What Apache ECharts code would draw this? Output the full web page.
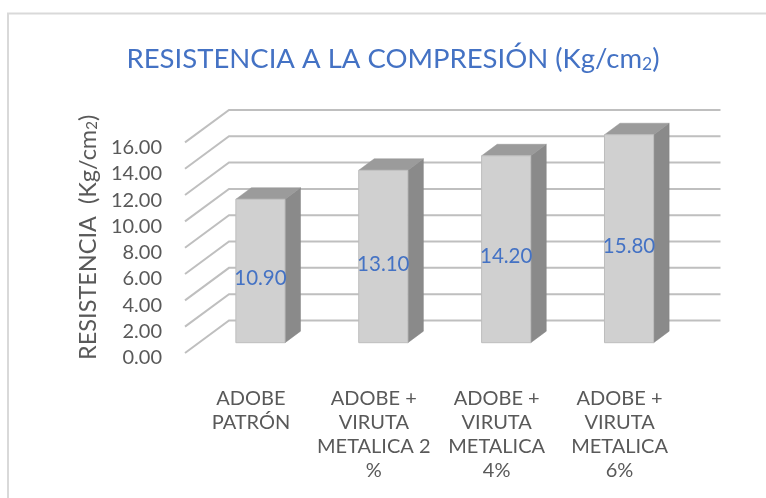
<!DOCTYPE html>
<html>
<head>
<meta charset="utf-8">
<script src="https://cdn.jsdelivr.net/npm/echarts@6/dist/echarts.min.js"></script>
<style>
  html, body { margin: 0; padding: 0; background: #ffffff; }
  #chart { width: 766px; height: 498px; }
</style>
</head>
<body>
<div id="chart"></div>
<script>
// Categories, values and value-axis ticks
const categories = [
  'ADOBE\nPATRÓN',
  'ADOBE +\nVIRUTA\nMETALICA 2\n%',
  'ADOBE +\nVIRUTA\nMETALICA\n4%',
  'ADOBE +\nVIRUTA\nMETALICA\n6%'
];
const resistencia = [10.90, 13.10, 14.20, 15.80];
const yTicks = [0, 2, 4, 6, 8, 10, 12, 14, 16];

const FONT = 'Lato, "Open Sans", sans-serif';
const TEXT_GREY = '#595959';
const BLUE = '#4472C4';

// Oblique offsets used to fake the 3-D look
const DEPTH = [15.5, -11.5];      // bar depth
const WALL_FRONT = [-14, 10.3];   // front edge of the side wall, relative to the bar plane
const WALL_BACK = [30, -22.2];    // back wall, relative to the bar plane

const chart = echarts.init(document.getElementById('chart'), null, { renderer: 'canvas' });

const option = {
  animation: false,
  backgroundColor: '#ffffff',
  title: {
    text: 'RESISTENCIA A LA COMPRESIÓN (Kg/cm{s|2})',
    left: 126.5,
    top: 45,
    padding: 0,
    textStyle: {
      fontFamily: FONT,
      fontSize: 27.5,
      fontWeight: 'normal',
      color: BLUE,
      rich: {
        s: { fontFamily: FONT, fontSize: 17.5, color: BLUE, verticalAlign: 'bottom', lineHeight: 27.5 }
      }
    }
  },
  graphic: [{
    type: 'polyline',
    silent: true,
    shape: { points: [[8, 498], [8, 13.5], [766, 13.5]] },
    style: { stroke: '#d9d9d9', lineWidth: 2, fill: null }
  }],
  grid: [
    // plane of the bar fronts
    { left: 199, right: 75.5, top: 132.1, bottom: 155.3 },
    // plane used to place the axis labels
    { left: 189.5, right: 85, top: 147.4, bottom: 140 }
  ],
  xAxis: [
    {
      type: 'category', gridIndex: 0, data: categories,
      axisLine: { show: false }, axisTick: { show: false }, axisLabel: { show: false }
    },
    {
      type: 'category', gridIndex: 1, data: categories,
      axisLine: { show: false }, axisTick: { show: false },
      axisLabel: {
        margin: 29, fontFamily: FONT, fontSize: 20, color: TEXT_GREY,
        lineHeight: 24, interval: 0
      }
    }
  ],
  yAxis: [
    {
      type: 'value', gridIndex: 0, min: 0, max: 16, interval: 2,
      axisLine: { show: false }, axisTick: { show: false }, axisLabel: { show: false },
      splitLine: { show: false },
      name: 'RESISTENCIA  (Kg/cm{s|2})',
      nameLocation: 'middle',
      nameRotate: 90,
      nameGap: 99,
      nameTextStyle: {
        fontFamily: FONT, fontSize: 23.5, color: TEXT_GREY,
        rich: { s: { fontFamily: FONT, fontSize: 15, color: TEXT_GREY, verticalAlign: 'bottom', lineHeight: 23.5 } }
      }
    },
    {
      type: 'value', gridIndex: 1, min: 0, max: 16, interval: 2,
      axisLine: { show: false }, axisTick: { show: false },
      splitLine: { show: false },
      axisLabel: {
        margin: 27.5, fontFamily: FONT, fontSize: 20, color: TEXT_GREY,
        formatter: v => v.toFixed(2)
      }
    }
  ],
  series: [
    {
      // side wall + back wall gridlines, one polyline per tick value
      type: 'custom',
      name: 'walls',
      xAxisIndex: 0, yAxisIndex: 0,
      clip: false,
      silent: true,
      data: yTicks.map(v => [0, v]),
      renderItem: function (params, api) {
        const cs = params.coordSys;
        const y = api.coord([0, api.value(1)])[1];
        const l = cs.x, r = cs.x + cs.width;
        return {
          type: 'polyline',
          shape: {
            points: [
              [l + WALL_FRONT[0], y + WALL_FRONT[1]],
              [l + WALL_BACK[0], y + WALL_BACK[1]],
              [r + WALL_BACK[0], y + WALL_BACK[1]]
            ]
          },
          style: { stroke: '#bfbfbf', lineWidth: 2, fill: null }
        };
      }
    },
    {
      // 3-D looking columns with value labels
      type: 'custom',
      name: 'RESISTENCIA',
      xAxisIndex: 0, yAxisIndex: 0,
      clip: false,
      data: resistencia.map((v, i) => [i, v]),
      renderItem: function (params, api) {
        const i = api.value(0);
        const v = api.value(1);
        const base = api.coord([i, 0]);
        const top = api.coord([i, v]);
        const band = api.size([1, 0])[0];
        const w = band * 0.4;
        const x0 = base[0] - w / 2;
        const x1 = x0 + w;
        const yb = base[1], yt = top[1];
        const dx = DEPTH[0], dy = DEPTH[1];
        return {
          type: 'group',
          children: [
            {
              type: 'polygon',
              shape: { points: [[x1, yt], [x1 + dx, yt + dy], [x1 + dx, yb + dy], [x1, yb]] },
              style: { fill: '#8a8a8a', stroke: '#858585', lineWidth: 0.5 }
            },
            {
              type: 'polygon',
              shape: { points: [[x0, yt], [x0 + dx, yt + dy], [x1 + dx, yt + dy], [x1, yt]] },
              style: { fill: '#9b9b9b', stroke: '#969696', lineWidth: 0.5 }
            },
            {
              type: 'rect',
              shape: { x: x0, y: yt, width: w, height: yb - yt },
              style: { fill: '#d0d0d0', stroke: '#bdbdbd', lineWidth: 1 }
            },
            {
              type: 'text',
              x: (x0 + x1) / 2,
              y: (yt + yb) / 2 + 7.5,
              style: {
                text: v.toFixed(2),
                fill: BLUE,
                font: '20.5px ' + FONT,
                align: 'center',
                verticalAlign: 'middle'
              }
            }
          ]
        };
      }
    }
  ]
};

chart.setOption(option);
</script>
</body>
</html>
